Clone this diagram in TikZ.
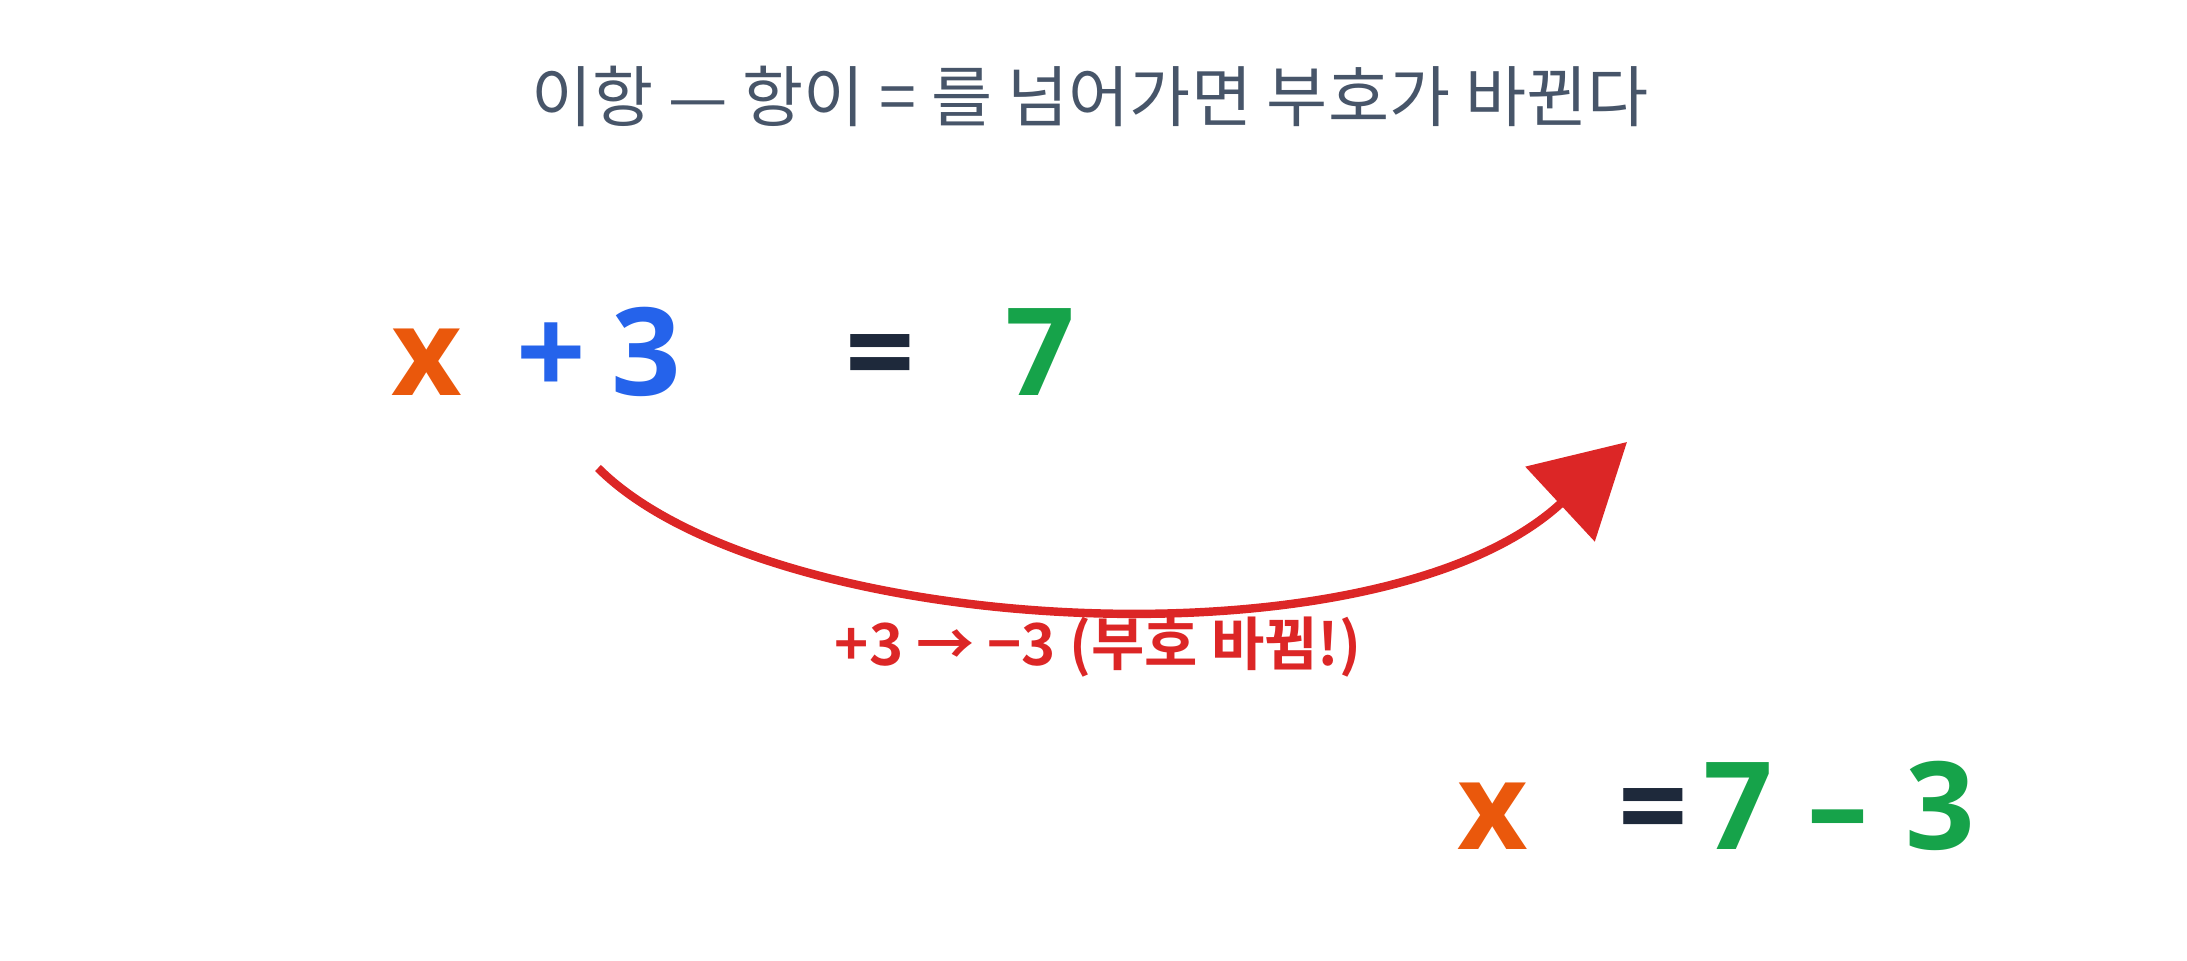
\documentclass[tikz,border=0pt]{standalone}
\usepackage{fontspec}
\newfontfamily\krfont{Noto Sans CJK KR}[BoldFont={Noto Sans CJK KR Bold}]
\newfontfamily\eqfont{Open Sans}
\usetikzlibrary{arrows.meta}
\definecolor{titlegray}{HTML}{475569}
\definecolor{xorange}{HTML}{EA580C}
\definecolor{termblue}{HTML}{2563EB}
\definecolor{eqdark}{HTML}{1E293B}
\definecolor{numgreen}{HTML}{16A34A}
\definecolor{signred}{HTML}{DC2626}
\begin{document}
\begin{tikzpicture}[
    term/.style={font=\eqfont\bfseries\fontsize{34.7pt}{40pt}\selectfont, anchor=base, inner sep=0pt}
  ]

  \useasboundingbox (0,0) rectangle (21.87,9.6);

  \node[anchor=base, inner sep=0pt, text=titlegray, font=\krfont\fontsize{18.9pt}{22pt}\selectfont] (title) at (10.90,8.39) {이항 — 항이 = 를 넘어가면 부호가 바뀐다};

  % x + 3 = 7
  \node[term, text=xorange]  (x1)    at (4.27,5.65) {x};
  \node[term, text=termblue] (plus)  at (5.51,5.65) {+};
  \node[term, text=termblue] (three) at (6.46,5.65) {3};
  \node[term, text=eqdark]   (eq1)   at (8.80,5.65) {=};
  \node[term, text=numgreen] (seven) at (10.40,5.65) {7};

  \coordinate (from) at (5.98,4.92);
  \coordinate (to) at (16.27,5.18);
  \draw[signred, line width=2.4pt, -{Triangle[length=26pt, width=28.5pt]}] (from) .. controls +(1.70,-1.70) and +(-2.48,-2.30) .. (to);
  \node[anchor=base, inner sep=0pt, text=signred, font=\krfont\bfseries\fontsize{16.5pt}{20pt}\selectfont] (swap) at (10.98,2.95) {+3 → −3 (부호 바뀜!)};

  % x = 7 - 3
  \node[term, text=xorange]  (x2)     at (14.93,1.11) {x};
  \node[term, text=eqdark]   (eq2)    at (16.53,1.11) {=};
  \node[term, text=numgreen] (seven2) at (17.38,1.11) {7};
  \node[term, text=numgreen] (minus)  at (18.38,1.11) {–};
  \node[term, text=numgreen] (three2) at (19.40,1.11) {3};

\end{tikzpicture}
\end{document}
